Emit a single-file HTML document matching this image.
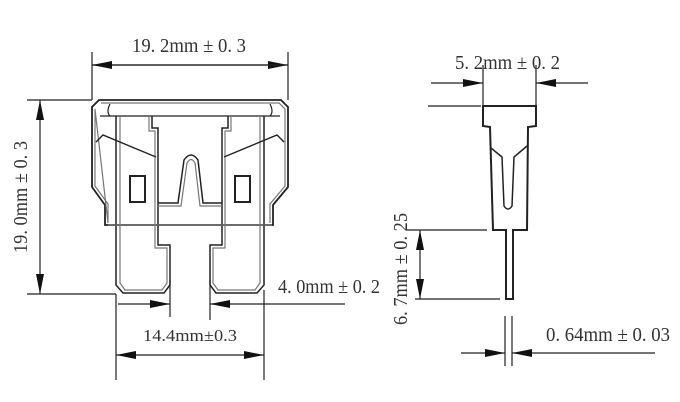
<!DOCTYPE html>
<html><head><style>html,body{margin:0;padding:0;background:#fff}svg{display:block}</style></head>
<body>
<svg width="680" height="402" viewBox="0 0 680 402" xmlns="http://www.w3.org/2000/svg">
<defs>
<marker id="a" viewBox="0 0 20 8" refX="20" refY="4" markerWidth="20" markerHeight="8" markerUnits="userSpaceOnUse" orient="auto"><path d="M0,0 L20,4 L0,8 Z" fill="#111"/></marker>
</defs>
<g font-family="Liberation Serif, serif" fill="#333" font-size="20">
<text x="132" y="52" textLength="114" lengthAdjust="spacingAndGlyphs">19. 2mm ± 0. 3</text>
<text x="0" y="0" transform="translate(27,253) rotate(-90)" textLength="112" lengthAdjust="spacingAndGlyphs">19. 0mm ± 0. 3</text>
<text x="278" y="293" textLength="102" lengthAdjust="spacingAndGlyphs">4. 0mm ± 0. 2</text>
<text x="143" y="341" font-size="17" textLength="94" lengthAdjust="spacingAndGlyphs">14.4mm±0.3</text>
<text x="455" y="69" textLength="105" lengthAdjust="spacingAndGlyphs">5. 2mm ± 0. 2</text>
<text x="0" y="0" transform="translate(407,325) rotate(-90)" textLength="112" lengthAdjust="spacingAndGlyphs">6. 7mm ± 0. 25</text>
<text x="546" y="341" textLength="124" lengthAdjust="spacingAndGlyphs">0. 64mm ± 0. 03</text>
</g>
<g stroke="#222" stroke-width="1.2" fill="none">
<line x1="92" y1="52" x2="92" y2="100"/><line x1="288" y1="52" x2="288" y2="100"/>
<line x1="92" y1="65" x2="288" y2="65" marker-end="url(#a)"/><line x1="288" y1="65" x2="92" y2="65" marker-end="url(#a)"/>
<line x1="27" y1="100" x2="92" y2="100"/><line x1="27" y1="294" x2="116" y2="294"/>
<line x1="40" y1="197" x2="40" y2="100" marker-end="url(#a)"/><line x1="40" y1="197" x2="40" y2="294" marker-end="url(#a)"/>
<line x1="116" y1="294" x2="116" y2="380"/><line x1="170" y1="280" x2="170" y2="317"/>
<line x1="210" y1="280" x2="210" y2="320"/><line x1="264" y1="290" x2="264" y2="380"/>
<line x1="118" y1="304" x2="170" y2="304" marker-end="url(#a)"/>
<line x1="345" y1="304" x2="210" y2="304" marker-end="url(#a)"/>
<line x1="190" y1="355" x2="116" y2="355" marker-end="url(#a)"/><line x1="190" y1="355" x2="264" y2="355" marker-end="url(#a)"/>
<path d="M99,100 L281,100 L288,107 L288,187 L273,205 L273,225 L105,225 L105,205 L92,187 L92,107 Z" stroke-width="1.8"/>
<path d="M101,103 L279,103 L285,109 L285,186 L270,204 L270,223 M108,223 L108,204 L95,186 L95,109 Z" stroke="#777"/>
<path d="M100,116 L280,116 M110,104 Q106,112 110,116 M270,104 Q274,112 270,116" stroke-width="1.2"/>
<path d="M116,116 L116,285 L123,293 L164,293 L170,285 L170,245 L158,245 L158,128 L152,128 L152,116" stroke-width="1.5"/>
<path d="M120,116 L120,283 L125,290 L162,290 L167,283 L167,248 L155,248 L155,131 L149,131 L149,116" stroke="#777"/>
<path d="M264,116 L264,285 L257,293 L216,293 L210,285 L210,245 L222,245 L222,128 L228,128 L228,116" stroke-width="1.5"/>
<path d="M260,116 L260,283 L255,290 L218,290 L213,283 L213,248 L225,248 L225,131 L231,131 L231,116" stroke="#777"/>
<path d="M158,203 L178,203 L184,160 Q191,150 198,160 L203,203 L222,203" stroke-width="1.5"/>
<path d="M158,206 L181,206 L187,163 Q191,156 195,163 L200,206 L222,206" stroke="#777"/>
<line x1="108" y1="225" x2="272" y2="225" stroke="#777"/>
<rect x="130" y="176" width="15" height="26" stroke-width="2"/>
<rect x="235" y="176" width="15" height="26" stroke-width="2"/>
<path d="M96,142 L103,135 L156,157" stroke-width="1.4"/><path d="M284,142 L277,135 L224,157" stroke-width="1.4"/>
<line x1="483" y1="65" x2="483" y2="106"/><line x1="536" y1="65" x2="536" y2="106"/>
<line x1="431" y1="83" x2="483" y2="83" marker-end="url(#a)"/><line x1="588" y1="83" x2="536" y2="83" marker-end="url(#a)"/>
<line x1="428" y1="106" x2="481" y2="106"/>
<path d="M483,106 L536,106 L536,126 L528,127 L527,230 L513,230 L513,299 L506,299 L506,230 L493,230 L490,127 L483,126 Z" stroke-width="2"/>
<path d="M491,148 L502,157 L504,206 Q508,212 512,206 L514,157 L527,146" stroke-width="1.5"/>
<line x1="407" y1="230" x2="487" y2="230"/><line x1="415" y1="299" x2="500" y2="299"/>
<line x1="420" y1="265" x2="420" y2="230" marker-end="url(#a)"/><line x1="420" y1="265" x2="420" y2="299" marker-end="url(#a)"/>
<line x1="505" y1="316" x2="505" y2="366"/><line x1="512" y1="316" x2="512" y2="366"/>
<line x1="461" y1="353" x2="505" y2="353" marker-end="url(#a)"/><line x1="655" y1="353" x2="512" y2="353" marker-end="url(#a)"/>
</g>
</svg>
</body></html>
